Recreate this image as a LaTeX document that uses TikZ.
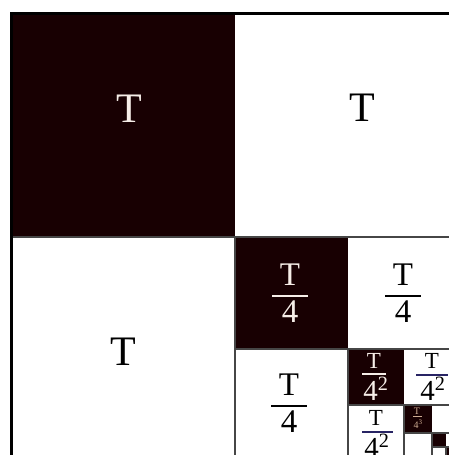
\documentclass[tikz,border=0pt]{standalone}
\usepackage{fontspec}
\setmainfont{Liberation Serif}
\definecolor{darkfill}{RGB}{24,0,2}
\definecolor{lighttext}{RGB}{246,238,232}
\definecolor{tinytext}{RGB}{205,170,145}
\definecolor{navyline}{RGB}{40,36,100}
\definecolor{gridgray}{RGB}{70,70,70}
\tikzset{
  darksq/.style={fill=darkfill, draw=none},
  border/.style={black, line width=2.6pt},
  grid/.style={gridgray, line width=1.3pt},
  bigT/.style={inner sep=0pt, font=\fontsize{42}{42}\selectfont},
  lvtwo/.style={inner sep=0pt, font=\fontsize{33}{33}\selectfont},
  lvthreenum/.style={inner sep=0pt, font=\fontsize{23}{23}\selectfont},
  lvthreeden/.style={inner sep=0pt, font=\fontsize{29}{29}\selectfont},
  lvfour/.style={inner sep=0pt, font=\fontsize{10}{10}\selectfont},
  fracbar/.style={line width=2.6pt},
  fracbarsmall/.style={line width=1.6pt}
}
\begin{document}
\begin{tikzpicture}[x=1pt, y=-1pt]
\useasboundingbox[fill=white] (0,0) rectangle (449,455);
% dark squares
\fill[darksq] (10,12) rectangle (235,237);
\fill[darksq] (235,237) rectangle (348,349);
\fill[darksq] (348,349) rectangle (404,405);
\fill[darksq] (404,405) rectangle (432,433);
\fill[darksq] (432,433) rectangle (446,447);
\fill[darksq] (446,447) rectangle (449,455);
% grid lines
\draw[grid] (10,237) -- (449,237);
\draw[grid] (235,237) -- (235,455);
\draw[grid] (235,349) -- (449,349);
\draw[grid] (348,349) -- (348,455);
\draw[grid] (348,405) -- (449,405);
\draw[grid] (404,405) -- (404,455);
\draw[grid] (404,433) -- (449,433);
\draw[grid] (432,433) -- (432,455);
\draw[grid] (432,447) -- (449,447);
\draw[grid] (446,447) -- (446,455);
% outer border
\draw[border] (10,13.3) -- (449,13.3);
\draw[border] (11.2,12) -- (11.2,455);
% level 1
\node[bigT, text=lighttext] (t1) at (129,109) {T};
\node[bigT, text=black] (t2) at (362,108) {T};
\node[bigT, text=black] (t3) at (123,352) {T};
% level 2
\node[lvtwo, text=lighttext] (a1) at (290,275) {T};
\node[lvtwo, text=lighttext] (a1d) at (290,312) {4};
\draw[fracbar, lighttext] (272,296) -- (308,296);
\node[lvtwo, text=black] (a2) at (403,275) {T};
\node[lvtwo, text=black] (a2d) at (403,312) {4};
\draw[fracbar, black] (385,296) -- (421,296);
\node[lvtwo, text=black] (a3) at (289,385) {T};
\node[lvtwo, text=black] (a3d) at (289,422) {4};
\draw[fracbar, black] (271,406) -- (307,406);
% level 3
\node[lvthreenum, text=lighttext] (b1) at (374,361) {T};
\node[lvthreeden, text=lighttext, anchor=base] (b1d) at (376,400) {4\textsuperscript{2}};
\draw[fracbarsmall, lighttext] (362,374) -- (386,374);
\node[lvthreenum, text=black] (b2) at (432,361) {T};
\node[lvthreeden, text=black, anchor=base] (b2d) at (433,400) {4\textsuperscript{2}};
\draw[fracbarsmall, navyline] (416,375) -- (448,375);
\node[lvthreenum, text=black] (b3) at (376,418) {T};
\node[lvthreeden, text=black, anchor=base] (b3d) at (377,457) {4\textsuperscript{2}};
\draw[fracbarsmall, navyline] (362,432) -- (393,432);
% level 4
\node[lvfour, text=tinytext] (c1) at (417,411) {T};
\node[lvfour, text=tinytext, anchor=base] (c1d) at (418,428) {4\textsuperscript{3}};
\draw[line width=0.6pt, tinytext] (413,416) -- (422,416);
\end{tikzpicture}
\end{document}
